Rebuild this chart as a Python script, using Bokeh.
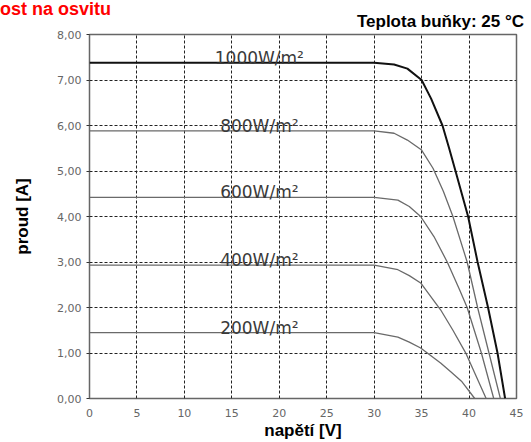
from bokeh.plotting import figure
from bokeh.models import Range1d, FixedTicker, Div
from bokeh.layouts import column
from bokeh.core.properties import value
from bokeh.embed import file_html
from bokeh.resources import INLINE

# ---- data ----
x_ticks = [0, 5, 10, 15, 20, 25, 30, 35, 40, 45]
y_ticks = [0, 1, 2, 3, 4, 5, 6, 7, 8]
y_tick_labels = ["0,00", "1,00", "2,00", "3,00", "4,00", "5,00", "6,00", "7,00", "8,00"]

v_1000 = [0, 30.0, 32.1, 33.5, 35.0, 36.0, 37.2, 37.9, 38.6, 39.9, 40.9, 42.0, 43.0, 43.8]
i_1000 = [7.38, 7.38, 7.34, 7.25, 7.00, 6.59, 6.00, 5.50, 4.98, 4.00, 3.00, 2.00, 1.00, 0.00]

v_800 = [0, 30.0, 32.1, 33.5, 35.0, 36.2, 37.3, 38.3, 39.8, 40.9, 42.1, 43.3]
i_800 = [5.88, 5.88, 5.83, 5.68, 5.46, 5.06, 4.55, 4.00, 3.00, 2.00, 1.00, 0.00]

v_600 = [0, 30.0, 32.5, 33.7, 34.9, 36.3, 37.7, 39.0, 39.8, 41.3, 42.6]
i_600 = [4.42, 4.42, 4.36, 4.22, 4.00, 3.56, 3.00, 2.39, 2.00, 1.00, 0.00]

v_400 = [0, 30.0, 32.5, 33.7, 34.9, 37.0, 38.3, 39.7, 41.8]
i_400 = [2.93, 2.93, 2.83, 2.70, 2.54, 1.95, 1.50, 0.98, 0.00]

v_200 = [0, 30.0, 32.5, 33.7, 34.9, 37.0, 38.1, 39.2, 40.6]
i_200 = [1.45, 1.45, 1.35, 1.24, 1.11, 0.78, 0.58, 0.38, 0.00]

curve_labels = ["1000W/m²", "800W/m²", "600W/m²", "400W/m²", "200W/m²"]
title_text = "ost na osvitu"
temp_text = "Teplota buňky: 25 °C"

# ---- header (titles) ----
header = Div(
    width=531, height=30, margin=(0, 0, 0, 0),
    text=(
        '<div style="position:relative;width:531px;height:30px;'
        "font-family:'Liberation Sans',Arial,sans-serif;font-weight:bold;white-space:nowrap;\">"
        '<span style="position:absolute;left:0px;top:-1px;font-size:18px;line-height:21px;'
        'color:#ff0000;">' + title_text + '</span>'
        '<span style="position:absolute;right:7px;top:12px;font-size:17px;line-height:20px;'
        'color:#000000;">' + temp_text + '</span>'
        '</div>'
    ),
)

# ---- figure ----
p = figure(width=531, height=412, output_backend="svg", toolbar_location=None,
           x_range=Range1d(0, 45), y_range=Range1d(0, 8),
           min_border_left=89, min_border_right=15, min_border_top=4, min_border_bottom=43)
p.margin = (0, 0, 0, 0)
p.background_fill_color = "white"
p.border_fill_color = "white"
p.outline_line_color = "#666666"
p.outline_line_width = 1.5

p.xaxis.ticker = FixedTicker(ticks=x_ticks)
p.yaxis.ticker = FixedTicker(ticks=y_ticks)
p.yaxis.major_label_overrides = {t: s for t, s in zip(y_ticks, y_tick_labels)}
for ax in (p.xaxis, p.yaxis):
    ax.axis_line_color = None
    ax.minor_tick_line_color = None
    ax.major_label_text_font = "DejaVu Sans"
    ax.major_label_text_font_size = "11px"
    ax.major_label_text_color = "#666666"
    ax.axis_label_text_font = "Liberation Sans"
    ax.axis_label_text_font_style = "bold"
    ax.axis_label_text_font_size = "17px"
    ax.axis_label_text_color = "black"
p.xaxis.major_tick_line_color = None
p.xaxis.major_label_standoff = 4
p.yaxis.major_tick_in = 0
p.yaxis.major_tick_out = 3
p.yaxis.major_tick_line_color = "#333333"
p.yaxis.major_label_standoff = 5
p.xaxis.axis_label = "napětí [V]"
p.yaxis.axis_label = "proud [A]"
p.xaxis.axis_label_standoff = 1
p.yaxis.axis_label_standoff = 22

p.xgrid.ticker = FixedTicker(ticks=x_ticks[1:-1])
p.ygrid.ticker = FixedTicker(ticks=y_ticks[1:-1])
for g in (p.xgrid, p.ygrid):
    g.grid_line_color = "#222222"
    g.grid_line_dash = "3 2"
    g.grid_line_width = 1

# curves
p.line(v_200, i_200, line_color="#6a6a6a", line_width=1.3)
p.line(v_400, i_400, line_color="#6a6a6a", line_width=1.3)
p.line(v_600, i_600, line_color="#6a6a6a", line_width=1.3)
p.line(v_800, i_800, line_color="#6a6a6a", line_width=1.3)
p.line(v_1000, i_1000, line_color="#111111", line_width=2)

LABEL_X = 17.9
isc = [i_1000[0], i_800[0], i_600[0], i_400[0], i_200[0]]
p.text(x=[LABEL_X] * len(isc), y=isc, text=curve_labels, text_align="center",
       text_baseline="alphabetic", y_offset=-5, text_font=value("DejaVu Sans"),
       text_font_size="17px", text_color="#3a3a3a")

layout = column(header, p, spacing=0)
open("out.html", "w").write(file_html(layout, INLINE))
